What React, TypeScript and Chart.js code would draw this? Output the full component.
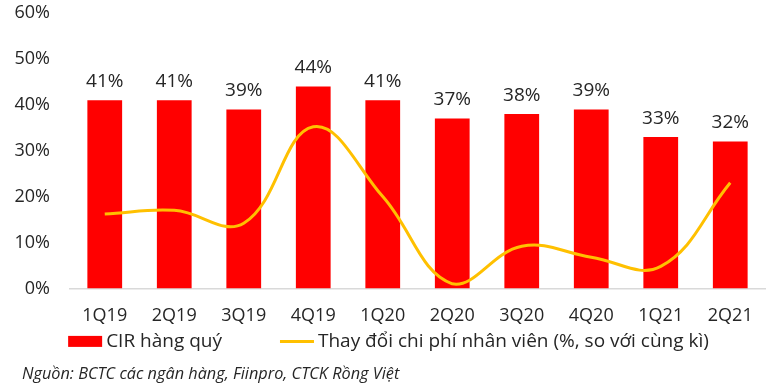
import React, { useEffect, useRef } from "react";
import { Chart, registerables } from "chart.js";

Chart.register(...registerables);

const categories = ["1Q19", "2Q19", "3Q19", "4Q19", "1Q20", "2Q20", "3Q20", "4Q20", "1Q21", "2Q21"];
const cirValues = [41, 41, 39, 44, 41, 37, 38, 39, 33, 32];
const staffCostChange = [16.2, 17, 14.2, 35.2, 20, 1, 9.2, 6.8, 4.8, 23];
const yTicks = [0, 10, 20, 30, 40, 50, 60];
const seriesNames = ["CIR hàng quý", "Thay đổi chi phí nhân viên (%, so với cùng kì)"];
const sourceText = "Nguồn: BCTC các ngân hàng, Fiinpro, CTCK Rồng Việt";

const FONT = "'Open Sans', 'Noto Sans', sans-serif";
const TEXT = "#262626";
const RED = "#FF0000";
const GOLD = "#FFC000";

const barLabels = {
  id: "barLabels",
  afterDatasetsDraw(chart: any) {
    const meta = chart.getDatasetMeta(0);
    const ctx = chart.ctx;
    ctx.save();
    ctx.font = `19px ${FONT}`;
    ctx.fillStyle = TEXT;
    ctx.textAlign = "center";
    ctx.textBaseline = "bottom";
    meta.data.forEach((bar: any, i: number) => {
      ctx.fillText(`${cirValues[i]}%`, bar.x, bar.y - 9);
    });
    ctx.restore();
  },
};

const customLegend = {
  id: "customLegend",
  afterDraw(chart: any) {
    const ctx = chart.ctx;
    const y = chart.chartArea.bottom + 53;
    ctx.save();
    ctx.font = `19px ${FONT}`;
    ctx.textBaseline = "middle";
    ctx.textAlign = "left";
    const w1 = ctx.measureText(seriesNames[0]).width;
    const w2 = ctx.measureText(seriesNames[1]).width;
    const sym = 34;
    const gapT = 4;
    const gapItems = 58;
    const total = sym + gapT + w1 + gapItems + sym + gapT + w2;
    let x = (chart.width - total) / 2 + 2;
    ctx.fillStyle = RED;
    ctx.fillRect(x, y - 5.5, sym, 11);
    x += sym + gapT;
    ctx.fillStyle = TEXT;
    ctx.fillText(seriesNames[0], x, y);
    x += w1 + gapItems;
    ctx.strokeStyle = GOLD;
    ctx.lineWidth = 3;
    ctx.beginPath();
    ctx.moveTo(x, y);
    ctx.lineTo(x + sym, y);
    ctx.stroke();
    x += sym + gapT;
    ctx.fillText(seriesNames[1], x, y);
    ctx.restore();
  },
};

export default function App() {
  const ref = useRef<HTMLCanvasElement | null>(null);
  useEffect(() => {
    if (!ref.current) return;
    const chart = new Chart(ref.current, {
      type: "bar",
      data: {
        labels: categories,
        datasets: [
          {
            type: "bar",
            label: seriesNames[0],
            data: cirValues,
            backgroundColor: RED,
            borderWidth: 0,
            barPercentage: 0.5,
            categoryPercentage: 1,
            order: 1,
          } as any,
          {
            type: "line",
            label: seriesNames[1],
            data: staffCostChange,
            borderColor: GOLD,
            backgroundColor: GOLD,
            borderWidth: 3,
            tension: 0.4,
            pointRadius: 0,
            order: 0,
          } as any,
        ],
      },
      options: {
        responsive: false,
        animation: false,
        layout: { padding: { top: 13, right: 8, left: 0, bottom: 43 } },
        plugins: {
          tooltip: { enabled: false },
          legend: { display: false },
        },
        scales: {
          x: {
            grid: { display: false, drawTicks: false },
            border: { display: true, color: "#D9D9D9", width: 1.5 },
            ticks: { color: TEXT, font: { family: FONT, size: 18 }, padding: 17 },
          },
          y: {
            min: 0,
            max: 60,
            afterFit: (s: any) => {
              s.width = 70;
              s.paddingTop = 11;
              s.paddingBottom = 0;
            },
            afterBuildTicks: (s: any) => {
              s.ticks = yTicks.map((v) => ({ value: v }));
            },
            grid: { display: false, drawTicks: false },
            border: { display: false },
            ticks: {
              color: TEXT,
              font: { family: FONT, size: 18 },
              padding: 20,
              callback: (v: any) => `${v}%`,
            },
          },
        },
      },
      plugins: [barLabels, customLegend],
    });
    return () => chart.destroy();
  }, []);

  return (
    <div style={{ position: "fixed", left: 0, top: 0, width: 773, height: 387, background: "#fff" }}>
      <canvas ref={ref} width={773} height={387} style={{ display: "block" }} />
      <div
        style={{
          position: "absolute",
          left: 22,
          top: 362,
          fontFamily: FONT,
          fontStyle: "italic",
          fontSize: 16.3,
          color: TEXT,
          whiteSpace: "nowrap",
        }}
      >
        {sourceText}
      </div>
    </div>
  );
}
